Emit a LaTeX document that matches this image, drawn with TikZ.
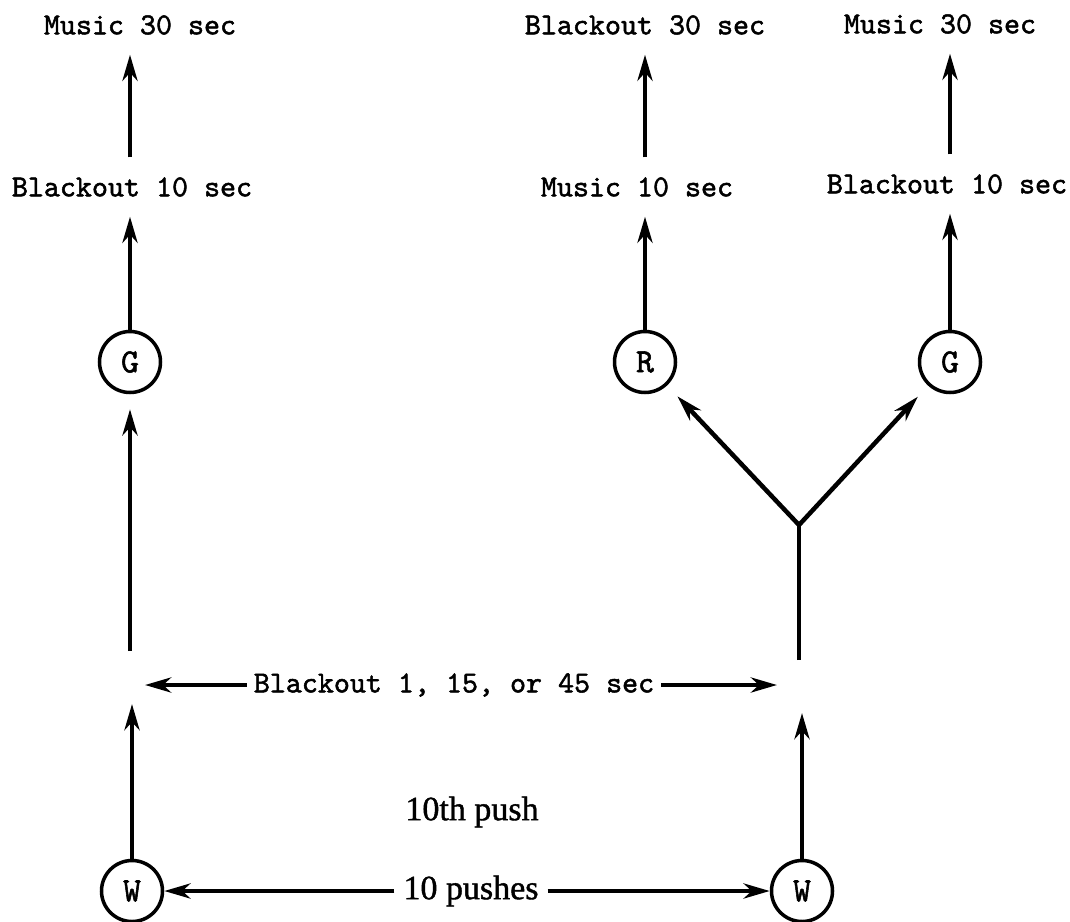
\documentclass[tikz,border=0pt]{standalone}
\usepackage{fontspec}
\newfontfamily\pushfont{Liberation Serif}[FakeBold=1.2]
\newfontfamily\typefont{lmmono10-regular}[Extension=.otf, FakeBold=1.6]
\usetikzlibrary{arrows.meta}

\begin{document}
\begin{tikzpicture}[x=1pt, y=-1pt,
    state/.style={draw, circle, line width=3.5pt, minimum size=61pt, inner sep=0pt, font=\typefont\fontsize{34}{34}\selectfont},
    phase/.style={font=\typefont\fontsize{30.5}{32}\selectfont, inner sep=0pt, outer sep=20pt},
    pushtext/.style={font=\pushfont\fontsize{34}{36}\selectfont, inner sep=0pt},
    arr/.style={line width=4.5pt, -{Stealth[length=26pt, width=15pt, inset=8pt]}}]

\useasboundingbox (0,0) rectangle (1070,921);

% left branch
\node[state] (g1) at (130,362) {G};
\node[state] (w1) at (132,891) {W};
\node[phase] (b1) at (132,187) {Blackout 10 sec};
\node[phase] (m1) at (140,25) {Music 30 sec};
\coordinate (g1in) at (130,651);
\coordinate (w1out) at (132,704);
\coordinate (blkl) at (145,685);

% right branch
\node[state] (w2) at (802,891) {W};
\node[state] (r) at (645,362) {R};
\node[state] (g2) at (950,362) {G};
\node[phase] (m2) at (637,187) {Music 10 sec};
\node[phase] (b2) at (645,25) {Blackout 30 sec};
\node[phase] (b3) at (947,184) {Blackout 10 sec};
\node[phase] (m3) at (940,24) {Music 30 sec};
\coordinate (w2out) at (802,713);
\coordinate (forkin) at (799,660);
\coordinate (fork) at (799,525);
\coordinate (blkr) at (777,685);

% middle texts
\node[phase, outer sep=7pt] (blk) at (454,685) {Blackout 1, 15, or 45 sec};
\node[pushtext] (tenth) at (472,812) {10th push};
\node[pushtext, outer sep=9pt] (pushes) at (471,891) {10 pushes};

% connectors
\draw[arr] (b1.north -| g1) -- (m1.south -| g1);
\draw[arr] (g1) -- (b1.south -| g1);
\draw[arr, shorten >=15pt] (g1in) -- (g1);
\draw[arr] (w1) -- (w1out);
\draw[arr] (blk.west) -- (blkl);
\draw[arr] (blk.east) -- (blkr);
\draw[arr] (pushes.west) -- (w1);
\draw[arr] (pushes.east) -- (w2);

\draw[arr] (w2) -- (w2out);
\draw[line width=4.5pt] (forkin) -- (fork);
\draw[arr, shorten >=15pt] (fork) -- (r);
\draw[arr, shorten >=15pt] (fork) -- (g2);
\draw[arr] (r) -- (m2.south -| r);
\draw[arr] (m2.north -| r) -- (b2.south -| r);
\draw[arr] (g2) -- (b3.south -| g2);
\draw[arr] (b3.north -| g2) -- (m3.south -| g2);
\end{tikzpicture}
\end{document}
